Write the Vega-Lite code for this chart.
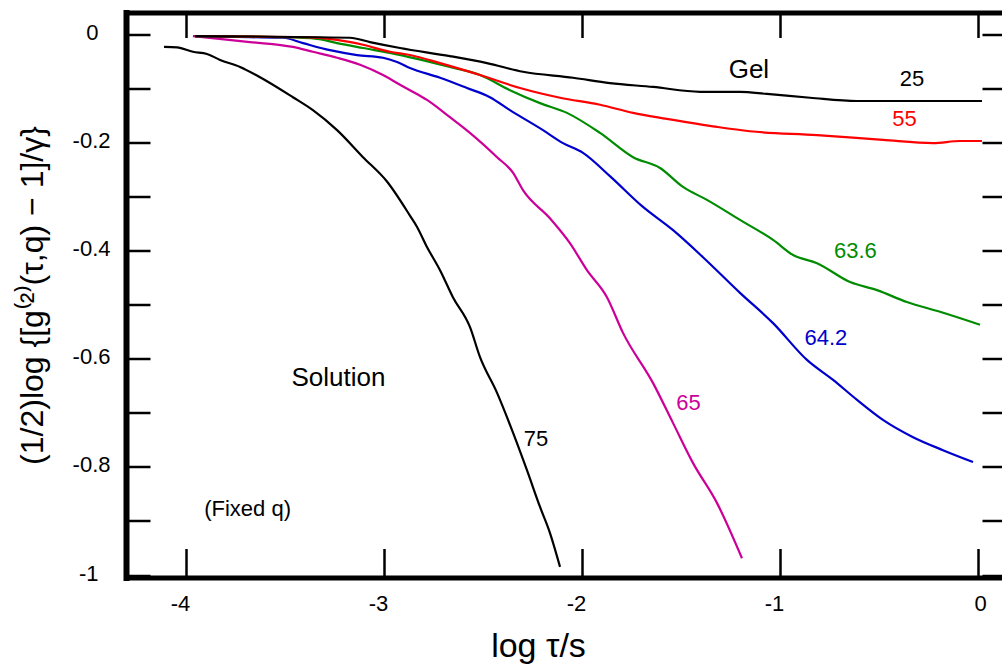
{
  "$schema": "https://vega.github.io/schema/vega-lite/v6.json",
  "width": 876,
  "height": 565,
  "autosize": {"type": "none"},
  "padding": {"left": 126, "top": 12.5, "right": 0, "bottom": 90.5},
  "background": "white",
  "config": {"view": {"stroke": null}, "font": "Liberation Sans"},
  "datasets": {
    "curves": [
      {"s":"75","x":-4.111,"y":-0.023},{"s":"75","x":-4.045,"y":-0.024},{"s":"75","x":-3.965,"y":-0.032},{"s":"75","x":-3.894,"y":-0.036},{"s":"75","x":-3.828,"y":-0.047},{"s":"75","x":-3.727,"y":-0.060},{"s":"75","x":-3.626,"y":-0.079},{"s":"75","x":-3.460,"y":-0.116},{"s":"75","x":-3.359,"y":-0.140},{"s":"75","x":-3.237,"y":-0.177},{"s":"75","x":-3.106,"y":-0.227},{"s":"75","x":-2.985,"y":-0.272},{"s":"75","x":-2.869,"y":-0.335},{"s":"75","x":-2.833,"y":-0.356},{"s":"75","x":-2.783,"y":-0.393},{"s":"75","x":-2.717,"y":-0.436},{"s":"75","x":-2.652,"y":-0.486},{"s":"75","x":-2.566,"y":-0.541},{"s":"75","x":-2.515,"y":-0.597},{"s":"75","x":-2.429,"y":-0.663},{"s":"75","x":-2.348,"y":-0.737},{"s":"75","x":-2.278,"y":-0.806},{"s":"75","x":-2.212,"y":-0.874},{"s":"75","x":-2.162,"y":-0.922},{"s":"75","x":-2.111,"y":-0.985},
      {"s":"65","x":-3.965,"y":-0.003},{"s":"65","x":-3.677,"y":-0.014},{"s":"65","x":-3.460,"y":-0.023},{"s":"65","x":-3.359,"y":-0.032},{"s":"65","x":-3.237,"y":-0.043},{"s":"65","x":-3.121,"y":-0.056},{"s":"65","x":-3.005,"y":-0.075},{"s":"65","x":-2.919,"y":-0.093},{"s":"65","x":-2.869,"y":-0.103},{"s":"65","x":-2.783,"y":-0.121},{"s":"65","x":-2.667,"y":-0.153},{"s":"65","x":-2.566,"y":-0.182},{"s":"65","x":-2.429,"y":-0.227},{"s":"65","x":-2.348,"y":-0.256},{"s":"65","x":-2.298,"y":-0.288},{"s":"65","x":-2.162,"y":-0.340},{"s":"65","x":-2.061,"y":-0.386},{"s":"65","x":-1.975,"y":-0.436},{"s":"65","x":-1.874,"y":-0.486},{"s":"65","x":-1.793,"y":-0.552},{"s":"65","x":-1.641,"y":-0.645},{"s":"65","x":-1.540,"y":-0.719},{"s":"65","x":-1.439,"y":-0.793},{"s":"65","x":-1.318,"y":-0.867},{"s":"65","x":-1.192,"y":-0.969},
      {"s":"64.2","x":-3.955,"y":-0.003},{"s":"64.2","x":-3.677,"y":-0.005},{"s":"64.2","x":-3.510,"y":-0.006},{"s":"64.2","x":-3.409,"y":-0.016},{"s":"64.2","x":-3.273,"y":-0.029},{"s":"64.2","x":-3.136,"y":-0.038},{"s":"64.2","x":-3.005,"y":-0.043},{"s":"64.2","x":-2.934,"y":-0.051},{"s":"64.2","x":-2.869,"y":-0.062},{"s":"64.2","x":-2.717,"y":-0.080},{"s":"64.2","x":-2.581,"y":-0.099},{"s":"64.2","x":-2.465,"y":-0.116},{"s":"64.2","x":-2.364,"y":-0.140},{"s":"64.2","x":-2.197,"y":-0.177},{"s":"64.2","x":-2.096,"y":-0.201},{"s":"64.2","x":-1.995,"y":-0.219},{"s":"64.2","x":-1.859,"y":-0.262},{"s":"64.2","x":-1.692,"y":-0.319},{"s":"64.2","x":-1.540,"y":-0.362},{"s":"64.2","x":-1.389,"y":-0.412},{"s":"64.2","x":-1.202,"y":-0.478},{"s":"64.2","x":-1.035,"y":-0.534},{"s":"64.2","x":-0.864,"y":-0.602},{"s":"64.2","x":-0.732,"y":-0.639},{"s":"64.2","x":-0.611,"y":-0.676},{"s":"64.2","x":-0.480,"y":-0.713},{"s":"64.2","x":-0.328,"y":-0.745},{"s":"64.2","x":-0.177,"y":-0.769},{"s":"64.2","x":-0.025,"y":-0.791},
      {"s":"63.6","x":-3.955,"y":-0.003},{"s":"63.6","x":-3.510,"y":-0.005},{"s":"63.6","x":-3.338,"y":-0.008},{"s":"63.6","x":-3.237,"y":-0.016},{"s":"63.6","x":-3.106,"y":-0.025},{"s":"63.6","x":-2.970,"y":-0.034},{"s":"63.6","x":-2.833,"y":-0.045},{"s":"63.6","x":-2.667,"y":-0.060},{"s":"63.6","x":-2.515,"y":-0.075},{"s":"63.6","x":-2.364,"y":-0.103},{"s":"63.6","x":-2.212,"y":-0.127},{"s":"63.6","x":-2.076,"y":-0.145},{"s":"63.6","x":-1.909,"y":-0.182},{"s":"63.6","x":-1.742,"y":-0.227},{"s":"63.6","x":-1.606,"y":-0.247},{"s":"63.6","x":-1.490,"y":-0.282},{"s":"63.6","x":-1.369,"y":-0.306},{"s":"63.6","x":-1.202,"y":-0.343},{"s":"63.6","x":-1.035,"y":-0.380},{"s":"63.6","x":-0.934,"y":-0.408},{"s":"63.6","x":-0.813,"y":-0.423},{"s":"63.6","x":-0.646,"y":-0.458},{"s":"63.6","x":-0.510,"y":-0.473},{"s":"63.6","x":-0.359,"y":-0.495},{"s":"63.6","x":-0.192,"y":-0.513},{"s":"63.6","x":0.010,"y":-0.537},
      {"s":"55","x":-3.955,"y":-0.003},{"s":"55","x":-3.409,"y":-0.005},{"s":"55","x":-3.237,"y":-0.010},{"s":"55","x":-3.106,"y":-0.019},{"s":"55","x":-2.970,"y":-0.032},{"s":"55","x":-2.869,"y":-0.038},{"s":"55","x":-2.717,"y":-0.053},{"s":"55","x":-2.515,"y":-0.075},{"s":"55","x":-2.313,"y":-0.099},{"s":"55","x":-2.111,"y":-0.117},{"s":"55","x":-1.909,"y":-0.130},{"s":"55","x":-1.742,"y":-0.145},{"s":"55","x":-1.571,"y":-0.156},{"s":"55","x":-1.318,"y":-0.171},{"s":"55","x":-1.152,"y":-0.179},{"s":"55","x":-0.813,"y":-0.186},{"s":"55","x":-0.480,"y":-0.195},{"s":"55","x":-0.227,"y":-0.201},{"s":"55","x":-0.091,"y":-0.197},{"s":"55","x":0.020,"y":-0.197},
      {"s":"25","x":-3.955,"y":-0.003},{"s":"25","x":-3.172,"y":-0.006},{"s":"25","x":-3.071,"y":-0.014},{"s":"25","x":-2.919,"y":-0.025},{"s":"25","x":-2.667,"y":-0.040},{"s":"25","x":-2.480,"y":-0.053},{"s":"25","x":-2.298,"y":-0.069},{"s":"25","x":-2.045,"y":-0.080},{"s":"25","x":-1.859,"y":-0.090},{"s":"25","x":-1.641,"y":-0.097},{"s":"25","x":-1.404,"y":-0.106},{"s":"25","x":-1.202,"y":-0.106},{"s":"25","x":-1.066,"y":-0.110},{"s":"25","x":-0.848,"y":-0.117},{"s":"25","x":-0.611,"y":-0.123},{"s":"25","x":0.020,"y":-0.123}
    ],
    "labels": [
      {"t":"25","s":"25","k":"curve","x":-0.333,"y":-0.083},
      {"t":"55","s":"55","k":"curve","x":-0.371,"y":-0.157},
      {"t":"63.6","s":"63.6","k":"curve","x":-0.619,"y":-0.400},
      {"t":"64.2","s":"64.2","k":"curve","x":-0.768,"y":-0.562},
      {"t":"65","s":"65","k":"curve","x":-1.462,"y":-0.681},
      {"t":"75","s":"75","k":"curve","x":-2.232,"y":-0.749},
      {"t":"Gel","s":"note","k":"region","x":-1.157,"y":-0.065},
      {"t":"Solution","s":"note","k":"region","x":-3.230,"y":-0.636},
      {"t":"(Fixed q)","s":"note","k":"curve","x":-3.689,"y":-0.877}
    ]
  },
  "layer": [
    {
      "data": {"name": "curves"},
      "mark": {"type": "line", "strokeWidth": 2.2, "interpolate": "monotone"},
      "encoding": {
        "x": {
          "field": "x", "type": "quantitative",
          "scale": {"domain": [-4.303, 0.1212], "nice": false, "zero": false},
          "axis": {
            "orient": "bottom", "values": [-4, -3, -2, -1, 0], "grid": false,
            "domainWidth": 5, "domainColor": "black", "domainCap": "square",
            "tickSize": -29, "tickWidth": 2.5, "tickColor": "black",
            "labelFontSize": 22, "labelColor": "black", "labelFont": "Liberation Sans",
            "labelExpr": "'' + datum.value", "labelPadding": 45, "labelFlush": false, "labelOverlap": false,
            "labelOffset": {"condition": {"test": "datum.value == 0", "value": 2}, "value": -6},
            "title": "log τ/s", "titleFontSize": 34, "titleFontWeight": "normal", "titleFont": "Liberation Sans",
            "titleColor": "black", "titleX": 412, "titleY": 79, "titleAlign": "center", "titleBaseline": "alphabetic"
          }
        },
        "y": {
          "field": "y", "type": "quantitative",
          "scale": {"domain": [-1.0046, 0.0407], "nice": false, "zero": false},
          "axis": {
            "orient": "left", "values": [0, -0.1, -0.2, -0.3, -0.4, -0.5, -0.6, -0.7, -0.8, -0.9, -1], "grid": false,
            "domainWidth": 6, "domainColor": "black", "domainCap": "square",
            "tickSize": -24, "tickWidth": 2.5, "tickColor": "black",
            "labelFontSize": 22, "labelColor": "black", "labelFont": "Liberation Sans",
            "labelExpr": "round(datum.value*10) % 2 == 0 ? '' + datum.value : ''",
            "labelPadding": {"condition": {"test": "datum.value == 0 || datum.value == -1", "value": 52}, "value": 40},
            "labelOffset": -2, "labelFlush": false, "labelOverlap": false, "labelBaseline": "middle",
            "title": "(1/2)log {[g⁽²⁾(τ,q) − 1]/γ}", "titleFontSize": 32, "titleFontWeight": "normal", "titleFont": "Liberation Sans",
            "titleColor": "black", "titleX": -84, "titleY": 282.5, "titleAlign": "center", "titleBaseline": "alphabetic", "titleAngle": 270
          }
        },
        "color": {
          "field": "s", "type": "nominal",
          "scale": {"domain": ["25", "55", "63.6", "64.2", "65", "75", "note"], "range": ["#000000", "#ff0000", "#008c00", "#0000cc", "#cc0099", "#000000", "#000000"]},
          "legend": null
        }
      }
    },
    {
      "data": {"name": "labels"},
      "mark": {"type": "text", "align": "center", "baseline": "middle", "font": "Liberation Sans"},
      "encoding": {
        "x": {
          "field": "x", "type": "quantitative",
          "scale": {"domain": [-4.303, 0.1212], "nice": false, "zero": false},
          "axis": {
            "orient": "top", "values": [-4, -3, -2, -1, 0], "grid": false, "labels": false, "title": null,
            "domainWidth": 5, "domainColor": "black", "domainCap": "square",
            "tickSize": -25, "tickWidth": 2.5, "tickColor": "black"
          }
        },
        "y": {
          "field": "y", "type": "quantitative",
          "scale": {"domain": [-1.0046, 0.0407], "nice": false, "zero": false},
          "axis": {
            "orient": "right", "values": [0, -0.1, -0.2, -0.3, -0.4, -0.5, -0.6, -0.7, -0.8, -0.9, -1], "grid": false, "labels": false, "title": null,
            "domain": false, "tickSize": -20, "tickWidth": 2.5, "tickColor": "black"
          }
        },
        "text": {"field": "t", "type": "nominal"},
        "color": {
          "field": "s", "type": "nominal",
          "scale": {"domain": ["25", "55", "63.6", "64.2", "65", "75", "note"], "range": ["#000000", "#ff0000", "#008c00", "#0000cc", "#cc0099", "#000000", "#000000"]},
          "legend": null
        },
        "size": {
          "field": "k", "type": "ordinal",
          "scale": {"domain": ["curve", "region"], "range": [22, 26]},
          "legend": null
        }
      }
    }
  ],
  "resolve": {"axis": {"x": "independent", "y": "independent"}}
}
